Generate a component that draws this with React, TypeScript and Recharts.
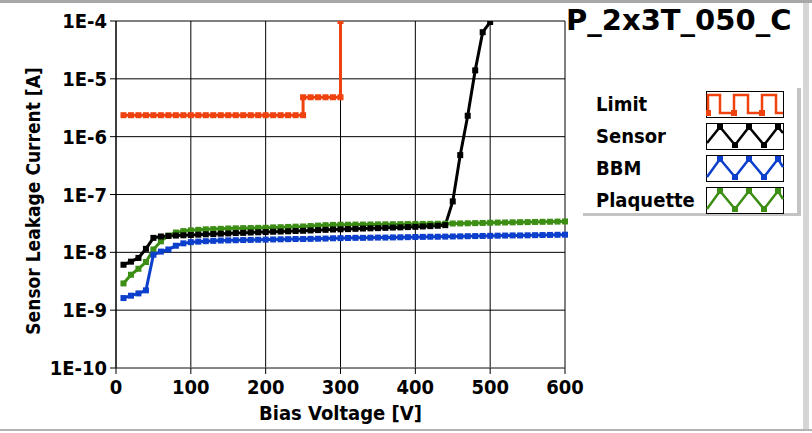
import { LineChart, Line, XAxis, YAxis, CartesianGrid, Legend } from 'recharts'

const FONT = "'DejaVu Sans Condensed', 'DejaVu Sans', sans-serif"

// bias voltage steps [V]
const voltages = [
  10, 20, 30, 40, 50, 60, 70, 80, 90, 100,
  110, 120, 130, 140, 150, 160, 170, 180, 190, 200,
  210, 220, 230, 240, 250, 260, 270, 280, 290, 300,
  310, 320, 330, 340, 350, 360, 370, 380, 390, 400,
  410, 420, 430, 440, 450, 460, 470, 480, 490, 500,
  510, 520, 530, 540, 550, 560, 570, 580, 590, 600,
]

// leakage current [A], sensor stops at 500 V
const sensorCurrent = [
  6.1e-9, 6.9e-9, 8.0e-9, 1.15e-8, 1.78e-8, 1.88e-8, 1.92e-8, 1.95e-8, 1.97e-8, 1.99e-8,
  2.02e-8, 2.05e-8, 2.07e-8, 2.1e-8, 2.12e-8, 2.15e-8, 2.17e-8, 2.2e-8, 2.22e-8, 2.24e-8,
  2.27e-8, 2.29e-8, 2.31e-8, 2.34e-8, 2.36e-8, 2.39e-8, 2.42e-8, 2.45e-8, 2.48e-8, 2.5e-8,
  2.52e-8, 2.55e-8, 2.58e-8, 2.6e-8, 2.62e-8, 2.65e-8, 2.68e-8, 2.7e-8, 2.73e-8, 2.76e-8,
  2.8e-8, 2.84e-8, 2.88e-8, 2.95e-8, 7.6e-8, 4.8e-7, 2.3e-6, 1.4e-5, 6.4e-5, 9.6e-5,
]

const bbmCurrent = [
  1.62e-9, 1.78e-9, 1.95e-9, 2.2e-9, 9.1e-9, 1.03e-8, 1.12e-8, 1.3e-8, 1.43e-8, 1.5e-8,
  1.53e-8, 1.56e-8, 1.58e-8, 1.6e-8, 1.61e-8, 1.62e-8, 1.63e-8, 1.64e-8, 1.65e-8, 1.66e-8,
  1.67e-8, 1.68e-8, 1.69e-8, 1.7e-8, 1.7e-8, 1.71e-8, 1.72e-8, 1.73e-8, 1.75e-8, 1.76e-8,
  1.77e-8, 1.78e-8, 1.78e-8, 1.79e-8, 1.8e-8, 1.8e-8, 1.81e-8, 1.82e-8, 1.83e-8, 1.84e-8,
  1.85e-8, 1.86e-8, 1.86e-8, 1.87e-8, 1.88e-8, 1.89e-8, 1.9e-8, 1.91e-8, 1.92e-8, 1.93e-8,
  1.94e-8, 1.95e-8, 1.96e-8, 1.96e-8, 1.97e-8, 1.98e-8, 1.99e-8, 2.0e-8, 2.01e-8, 2.02e-8,
]

const plaquetteCurrent = [
  2.9e-9, 4.1e-9, 5.2e-9, 6.8e-9, 1.12e-8, 1.55e-8, 1.95e-8, 2.2e-8, 2.33e-8, 2.4e-8,
  2.45e-8, 2.5e-8, 2.52e-8, 2.55e-8, 2.58e-8, 2.6e-8, 2.62e-8, 2.63e-8, 2.65e-8, 2.66e-8,
  2.7e-8, 2.72e-8, 2.75e-8, 2.78e-8, 2.8e-8, 2.85e-8, 2.9e-8, 2.95e-8, 2.98e-8, 3.0e-8,
  3.0e-8, 3.02e-8, 3.02e-8, 3.03e-8, 3.04e-8, 3.05e-8, 3.06e-8, 3.07e-8, 3.08e-8, 3.1e-8,
  3.1e-8, 3.11e-8, 3.12e-8, 3.13e-8, 3.15e-8, 3.16e-8, 3.18e-8, 3.2e-8, 3.22e-8, 3.25e-8,
  3.27e-8, 3.28e-8, 3.3e-8, 3.32e-8, 3.33e-8, 3.35e-8, 3.37e-8, 3.38e-8, 3.4e-8, 3.42e-8,
]

// compliance limit, steps at 250 V and 300 V
const limitVoltage = [
  10, 20, 30, 40, 50, 60, 70, 80, 90, 100, 110, 120, 130, 140, 150, 160, 170,
  180, 190, 200, 210, 220, 230, 240, 250, 250, 260, 270, 280, 290, 300, 300,
]
const limitCurrent = [
  2.35e-6, 2.35e-6, 2.35e-6, 2.35e-6, 2.35e-6, 2.35e-6, 2.35e-6, 2.35e-6, 2.35e-6,
  2.35e-6, 2.35e-6, 2.35e-6, 2.35e-6, 2.35e-6, 2.35e-6, 2.35e-6, 2.35e-6, 2.35e-6,
  2.35e-6, 2.35e-6, 2.35e-6, 2.35e-6, 2.35e-6, 2.35e-6, 2.35e-6,
  4.8e-6, 4.8e-6, 4.8e-6, 4.8e-6, 4.8e-6, 4.8e-6, 1e-4,
]

const xTicks = [0, 100, 200, 300, 400, 500, 600]
const yTicks = [1e-10, 1e-9, 1e-8, 1e-7, 1e-6, 1e-5, 1e-4]

const COLORS = {
  Limit: '#f0420e',
  Sensor: '#000000',
  BBM: '#0c3fcc',
  Plaquette: '#3c8e14',
}
const legendNames = ['Limit', 'Sensor', 'BBM', 'Plaquette'] as const

const zip = (xs: number[], ys: number[]) => ys.map((y, i) => ({ v: xs[i], i: y }))

const limitData = zip(limitVoltage, limitCurrent)
const sensorData = zip(voltages, sensorCurrent)
const bbmData = zip(voltages, bbmCurrent)
const plaquetteData = zip(voltages, plaquetteCurrent)

const squareDot = (color: string, size: number) => (props: any) => {
  const { cx, cy, index } = props
  if (cx == null || cy == null) return <g key={index} />
  return <rect key={index} x={cx - size / 2} y={cy - size / 2} width={size} height={size} fill={color} />
}

function YTitle() {
  return (
    <text
      x={33} y={201}
      transform="rotate(-90 33 201)"
      textAnchor="middle"
      dominantBaseline="central"
      fill="#000"
      style={{ fontFamily: FONT, fontSize: 19, fontWeight: 'bold' }}
    >
      Sensor Leakage Current [A]
    </text>
  )
}

function Swatch({ name }: { name: string }) {
  const color = (COLORS as any)[name]
  const square = name === 'Limit'
  const pts = square
    ? [[2, 22], [2, 4], [14, 4], [14, 22], [28, 22], [28, 4], [42, 4], [42, 22], [56, 22], [56, 4], [70, 4], [70, 22], [77, 22]]
    : name === 'Sensor'
      ? [[1, 20], [14, 4], [29, 22], [43, 4], [58, 22], [72, 4], [77, 10]]
      : [[1, 22], [14, 4], [29, 22], [43, 4], [58, 22], [72, 4], [77, 12]]
  const marks = square ? [[2, 22], [28, 22], [56, 22]] : pts.slice(1, 6)
  return (
    <svg width={78} height={27} style={{ display: 'block' }}>
      <rect x={0.5} y={0.5} width={77} height={26} fill="#fff" stroke="#000" />
      <polyline points={pts.map(p => p.join(',')).join(' ')} fill="none" stroke={color} strokeWidth={2.5} />
      {marks.map((p, k) => (
        <rect key={k} x={p[0] - 3} y={p[1] - 3} width={6} height={6} fill={color} />
      ))}
    </svg>
  )
}

function LegendPanel() {
  return (
    <div style={{
      position: 'relative', width: 214, height: 125,
      borderRight: '4px solid #c4c4c4', borderBottom: '3px solid #c4c4c4',
      background: '#fff',
    }}>
      {legendNames.map((name, k) => (
        <div key={name} style={{ position: 'absolute', top: 3 + 32 * k, left: 0, width: 214, height: 27 }}>
          <span style={{
            position: 'absolute', left: 13, top: 0, lineHeight: '27px',
            fontFamily: FONT, fontSize: 20, fontWeight: 'bold', color: '#000',
          }}>{name}</span>
          <div style={{ position: 'absolute', left: 123, top: 0 }}>
            <Swatch name={name} />
          </div>
        </div>
      ))}
    </div>
  )
}

const tickStyle = { fill: '#000', fontSize: 20, fontWeight: 'bold', fontFamily: FONT }

export default function App() {
  return (
    <div style={{ position: 'absolute', left: 0, top: 0, width: 812, height: 433, background: '#fff', overflow: 'hidden' }}>
      <LineChart width={812} height={433} margin={{ top: 21, right: 247, bottom: 0, left: 0 }}>
        <CartesianGrid stroke="#000" strokeWidth={1} />
        <XAxis
          dataKey="v" type="number" domain={[0, 600]} ticks={xTicks}
          height={65} tick={tickStyle} tickSize={6} tickMargin={6}
          stroke="#000" axisLine={{ stroke: '#8c8c8c' }} allowDuplicatedCategory
          label={{ value: 'Bias Voltage [V]', position: 'insideBottom', offset: 13, fill: '#000', fontSize: 20, fontWeight: 'bold', fontFamily: FONT }}
        />
        <YAxis
          type="number" scale="log" domain={[1e-10, 1e-4]} ticks={yTicks} allowDataOverflow
          width={116} tick={tickStyle} tickSize={6} tickMargin={3} stroke="#000"
          tickFormatter={(v: number) => `1E${Math.round(Math.log10(v))}`}
          label={<YTitle />}
        />
        <Legend
          layout="vertical" align="center" verticalAlign="middle"
          wrapperStyle={{ position: 'absolute', left: 583, top: 88, width: 218, height: 128 }}
          content={() => <LegendPanel />}
        />
        <Line data={limitData} dataKey="i" name="Limit" stroke={COLORS.Limit} strokeWidth={3}
          dot={squareDot(COLORS.Limit, 6)} isAnimationActive={false} type="linear" />
        <Line data={plaquetteData} dataKey="i" name="Plaquette" stroke={COLORS.Plaquette} strokeWidth={3}
          dot={squareDot(COLORS.Plaquette, 6)} isAnimationActive={false} type="linear" />
        <Line data={bbmData} dataKey="i" name="BBM" stroke={COLORS.BBM} strokeWidth={3}
          dot={squareDot(COLORS.BBM, 6)} isAnimationActive={false} type="linear" />
        <Line data={sensorData} dataKey="i" name="Sensor" stroke={COLORS.Sensor} strokeWidth={3}
          dot={squareDot(COLORS.Sensor, 6)} isAnimationActive={false} type="linear" />
      </LineChart>
      <div style={{
        position: 'absolute', left: 566, top: 6, lineHeight: '29px',
        fontFamily: "'DejaVu Sans', sans-serif", fontSize: 29, fontWeight: 'bold', color: '#000', whiteSpace: 'nowrap',
      }}>P_2x3T_050_C</div>
      <div style={{ position: 'absolute', left: 0, top: 0, width: 812, height: 3, background: '#a8a8a8' }} />
      <div style={{ position: 'absolute', left: 803, top: 3, width: 6, height: 427, background: '#d6d6d6' }} />
      <div style={{ position: 'absolute', left: 0, top: 429, width: 812, height: 2, background: '#b4b4b4' }} />
    </div>
  )
}
